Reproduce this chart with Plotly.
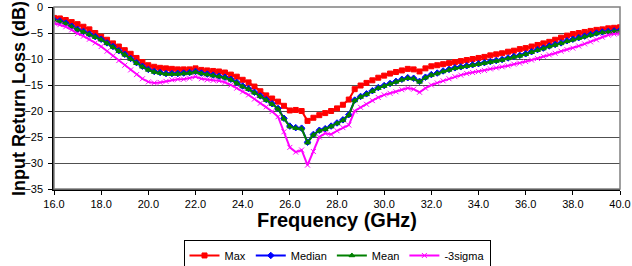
import plotly.graph_objects as go

freq = [16.0 + 0.25 * i for i in range(97)]

max_vals = [-2.1, -2.2, -2.5, -2.9, -3.3, -3.8, -4.3, -5.0, -5.7, -6.3, -7.0, -7.6, -8.3, -9.0, -9.8, -10.6,
            -11.2, -11.5, -11.7, -11.8, -11.9, -12.0, -12.0, -12.0, -11.8, -12.1, -12.2, -12.3, -12.4, -12.6, -13.0, -13.4,
            -14.0, -14.5, -15.3, -16.2, -17.0, -17.6, -18.2, -19.0, -19.9, -19.8, -20.0, -21.9, -21.3, -20.8, -20.4, -20.0,
            -19.5, -18.8, -17.8, -15.8, -15.1, -14.6, -14.1, -13.6, -13.2, -12.8, -12.5, -12.2, -11.9, -12.0, -12.4, -11.8,
            -11.4, -11.2, -11.0, -10.8, -10.6, -10.4, -10.2, -10.0, -9.8, -9.6, -9.3, -9.1, -8.9, -8.6, -8.4, -8.1,
            -7.9, -7.6, -7.3, -7.0, -6.7, -6.3, -5.9, -5.5, -5.2, -5.0, -4.8, -4.6, -4.4, -4.3, -4.1, -4.0, -3.9]

median_vals = [-2.5, -2.7, -3.1, -3.7, -4.3, -4.7, -5.2, -5.7, -6.2, -6.9, -7.6, -8.4, -9.1, -9.9, -10.7, -11.4,
               -12.0, -12.4, -12.6, -12.8, -12.8, -12.8, -12.7, -12.6, -12.4, -12.7, -12.9, -13.1, -13.3, -13.5, -13.9, -14.5,
               -15.2, -15.7, -16.4, -17.1, -17.8, -18.6, -19.5, -21.4, -22.9, -23.2, -23.3, -26.0, -24.5, -23.7, -23.4, -22.9,
               -22.3, -21.7, -20.7, -17.9, -17.2, -16.7, -16.1, -15.5, -15.1, -14.7, -14.3, -13.9, -13.6, -13.7, -14.3, -13.5,
               -13.0, -12.7, -12.3, -12.0, -11.7, -11.5, -11.3, -11.1, -10.9, -10.7, -10.5, -10.3, -10.1, -9.8, -9.5, -9.3,
               -9.0, -8.6, -8.2, -7.9, -7.5, -7.2, -6.9, -6.5, -6.2, -5.9, -5.6, -5.3, -5.0, -4.8, -4.7, -4.6, -4.5]

mean_vals = [-2.6, -2.8, -3.2, -3.8, -4.4, -4.8, -5.3, -5.8, -6.3, -7.0, -7.7, -8.5, -9.2, -10.0, -10.8, -11.5,
             -12.1, -12.5, -12.7, -12.9, -12.9, -12.9, -12.8, -12.7, -12.5, -12.8, -13.0, -13.2, -13.4, -13.6, -14.0, -14.6,
             -15.3, -15.8, -16.5, -17.2, -17.9, -18.7, -19.6, -21.5, -23.0, -23.3, -23.4, -26.1, -24.6, -23.8, -23.5, -23.0,
             -22.4, -21.8, -20.8, -18.0, -17.3, -16.8, -16.2, -15.6, -15.2, -14.8, -14.4, -14.0, -13.7, -13.8, -14.4, -13.6,
             -13.1, -12.8, -12.4, -12.1, -11.8, -11.6, -11.4, -11.2, -11.0, -10.8, -10.6, -10.4, -10.2, -9.9, -9.6, -9.4,
             -9.1, -8.7, -8.3, -8.0, -7.6, -7.3, -7.0, -6.6, -6.3, -6.0, -5.7, -5.4, -5.1, -4.9, -4.8, -4.7, -4.6]

sigma3_vals = [-3.1, -3.4, -3.8, -4.4, -5.1, -5.6, -6.2, -6.9, -7.6, -8.5, -9.4, -10.3, -11.2, -12.1, -13.0, -13.8,
               -14.4, -14.6, -14.5, -14.3, -14.0, -13.9, -13.9, -13.7, -13.4, -13.8, -14.0, -14.1, -14.2, -14.5, -15.0, -15.6,
               -16.3, -16.9, -17.7, -18.5, -19.2, -20.1, -21.1, -24.0, -27.0, -27.9, -27.5, -30.4, -27.8, -25.0, -24.3, -24.5,
               -23.8, -23.2, -22.7, -20.0, -19.3, -18.7, -18.0, -17.4, -16.9, -16.6, -16.3, -15.9, -15.6, -15.8, -16.4, -15.6,
               -15.0, -14.6, -14.2, -13.8, -13.4, -13.1, -12.8, -12.6, -12.4, -12.2, -11.9, -11.7, -11.5, -11.3, -11.0, -10.8,
               -10.5, -10.2, -9.9, -9.5, -9.2, -8.9, -8.5, -8.2, -7.9, -7.5, -7.1, -6.7, -6.3, -5.8, -5.4, -5.2, -5.1]

series_names = ["Max", "Median", "Mean", "-3sigma"]
series_vals = [max_vals, median_vals, mean_vals, sigma3_vals]
colors = ["#FF0000", "#0000FF", "#008000", "#FF00FF"]
symbols = ["square", "diamond", "triangle-up", "x-thin"]
sizes = [5, 5, 5, 5]

x_ticks = [16.0, 18.0, 20.0, 22.0, 24.0, 26.0, 28.0, 30.0, 32.0, 34.0, 36.0, 38.0, 40.0]
y_ticks = [0, -5, -10, -15, -20, -25, -30, -35]

fig = go.Figure()
for name, vals, c, s, sz in zip(series_names, series_vals, colors, symbols, sizes):
    fig.add_trace(go.Scatter(
        x=freq, y=vals, name=name, mode="lines+markers",
        line=dict(color=c, width=2),
        marker=dict(symbol=s, size=sz, color=c, line=dict(color=c, width=1)),
    ))

fig.update_layout(
    width=632, height=266,
    margin=dict(l=54, r=12, t=7, b=77, autoexpand=False),
    paper_bgcolor="white", plot_bgcolor="white",
    font=dict(family="Arial, Liberation Sans, sans-serif", size=11, color="black"),
    showlegend=True, hovermode=False,
    legend=dict(
        orientation="h", x=0.5, xanchor="center", y=-0.28, yanchor="top",
        bordercolor="black", borderwidth=1, font=dict(size=11),
        itemwidth=30, tracegroupgap=0,
    ),
    shapes=[dict(type="rect", xref="paper", yref="paper", x0=0, x1=1, y0=0, y1=1,
                 line=dict(color="#808080", width=1.5), layer="above")],
    annotations=[
        dict(text="<b>Input Return Loss (dB)</b>", textangle=-90,
             xref="paper", yref="paper", x=-0.062, y=0.5,
             xanchor="center", yanchor="middle", showarrow=False,
             font=dict(size=18, color="black")),
        dict(text="<b>Frequency (GHz)</b>",
             xref="paper", yref="paper", x=0.5, y=-0.168,
             xanchor="center", yanchor="middle", showarrow=False,
             font=dict(size=20, color="black")),
    ],
)

fig.update_xaxes(
    range=[16, 40], tickvals=x_ticks, ticktext=[f"{v:.1f}" for v in x_ticks],
    showgrid=False, zeroline=False, automargin=False, ticklabeloverflow="allow",
    showline=True, linecolor="black", linewidth=1.5,
    ticks="outside", ticklen=4, tickcolor="black",
)
fig.update_yaxes(
    range=[-35, 0], tickvals=y_ticks, automargin=False, ticklabeloverflow="allow",
    showgrid=True, gridcolor="#505050", gridwidth=1, zeroline=False,
    showline=True, linecolor="black", linewidth=1.5,
    ticks="outside", ticklen=4, tickcolor="black", ticklabelstandoff=3,
)

fig.write_html(
    "out.html",
    config={"displayModeBar": False},
    post_script="document.body.style.margin='0';document.body.style.overflow='hidden';",
)
